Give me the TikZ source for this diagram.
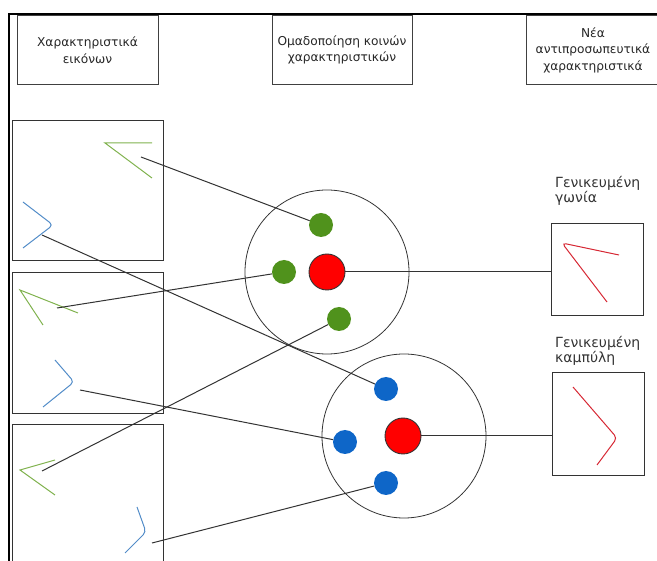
\documentclass[tikz,border=0pt]{standalone}
\usepackage{fontspec}
\setmainfont{DejaVu Sans}
\definecolor{dotgreen}{RGB}{80,146,28}
\definecolor{dotblue}{RGB}{14,102,200}
\definecolor{featgreen}{RGB}{128,178,78}
\definecolor{featblue}{RGB}{82,140,200}
\definecolor{featred}{RGB}{214,40,52}
\begin{document}
\begin{tikzpicture}[x=1pt,y=-1pt,
	hdr/.style={draw=black!75, line width=0.8pt, align=center, inner sep=0pt, text=black!85, font=\fontsize{12.2}{16.5}\selectfont},
	imgbox/.style={draw=black!80, line width=0.8pt, inner sep=0pt},
	gdot/.style={circle, fill=dotgreen, minimum size=24pt, inner sep=0pt},
	bdot/.style={circle, fill=dotblue, minimum size=24pt, inner sep=0pt},
	rdot/.style={circle, fill=red, draw=black!80, line width=0.9pt, minimum size=36pt, inner sep=0pt},
	group/.style={circle, draw=black!80, line width=0.8pt, minimum size=164pt, inner sep=0pt},
	link/.style={draw=black!80, line width=1pt},
	featg/.style={featgreen, line width=1pt},
	featb/.style={featblue, line width=1pt, rounded corners=4pt},
	featr/.style={featred, line width=1pt, rounded corners=4pt},
	genlabel/.style={anchor=base west, align=left, inner sep=0pt, text=black!80, font=\fontsize{14}{15.5}\selectfont}]
	\useasboundingbox (0,0) rectangle (657,561);
	% frame
	\draw[black, line width=2.5pt] (9,561) -- (9,14) -- (657,14);
	% headers
	\node[hdr, minimum width=141pt, minimum height=69pt] (hdrA) at (87.5,50) {Χαρακτηριστικά\\εικόνων};
	\node[hdr, minimum width=140pt, minimum height=69pt] (hdrB) at (342,50) {Ομαδοποίηση κοινών\\χαρακτηριστικών};
	\node[hdr, minimum width=134pt, minimum height=69pt] (hdrC) at (593,50) {Νέα\\αντιπροσωπευτικά\\χαρακτηριστικά};
	% image boxes
	\node[imgbox, minimum width=151pt, minimum height=140pt] (imgA) at (87.5,190) {};
	\node[imgbox, minimum width=151pt, minimum height=141pt] (imgB) at (87.5,342.5) {};
	\node[imgbox, minimum width=151pt, minimum height=146pt] (imgC) at (87.5,497) {};
	% features in the images
	\draw[featg] (152,143) -- (105,143) -- (152,178);
	\draw[featb] (23,202) -- (53,225) -- (23,248);
	\draw[featg] (78,313) -- (20,290) -- (43,325);
	\draw[featb] (55,360) -- (74,382) -- (43,407);
	\draw[featg] (55,460) -- (20,470) -- (55,495);
	\draw[featb] (137,507) -- (146,532) -- (125,553);
	\coordinate (fA1) at (141,157);
	\coordinate (fA2) at (42,235);
	\coordinate (fB1) at (57,308);
	\coordinate (fB2) at (80,390);
	\coordinate (fC1) at (42,471);
	\coordinate (fC2) at (152,543);
	% clusters
	\node[group] (angles) at (327,272) {};
	\node[group] (curves) at (404,436) {};
	\node[rdot] (r1) at (327,272) {};
	\node[rdot] (r2) at (403,436) {};
	\node[gdot] (g1) at (321,225) {};
	\node[gdot] (g2) at (284,272) {};
	\node[gdot] (g3) at (339,319) {};
	\node[bdot] (b1) at (386,389) {};
	\node[bdot] (b2) at (345,442) {};
	\node[bdot] (b3) at (386,483) {};
	% generalised features
	\node[genlabel] (lab1) at (555,203) {Γενικευμένη\\γωνία};
	\node[genlabel] (lab2) at (555,363) {Γενικευμένη\\καμπύλη};
	\node[imgbox, minimum width=92pt, minimum height=92pt] (gen1) at (597,269) {};
	\node[imgbox, minimum width=92pt, minimum height=103pt] (gen2) at (598,423.5) {};
	\draw[featr] (619,255) -- (562,243) -- (607,302);
	\draw[featr] (573,387) -- (617,438) -- (597,465);
	% connectors
	\draw[link] (fA1) -- (g1);
	\draw[link] (fB1) -- (g2);
	\draw[link] (fC1) -- (g3);
	\draw[link] (fA2) -- (b1);
	\draw[link] (fB2) -- (b2);
	\draw[link] (fC2) -- (b3);
	\draw[link] (r1) -- (r1 -| gen1.west);
	\draw[link] (r2) -- (r2 -| gen2.west);
\end{tikzpicture}
\end{document}
